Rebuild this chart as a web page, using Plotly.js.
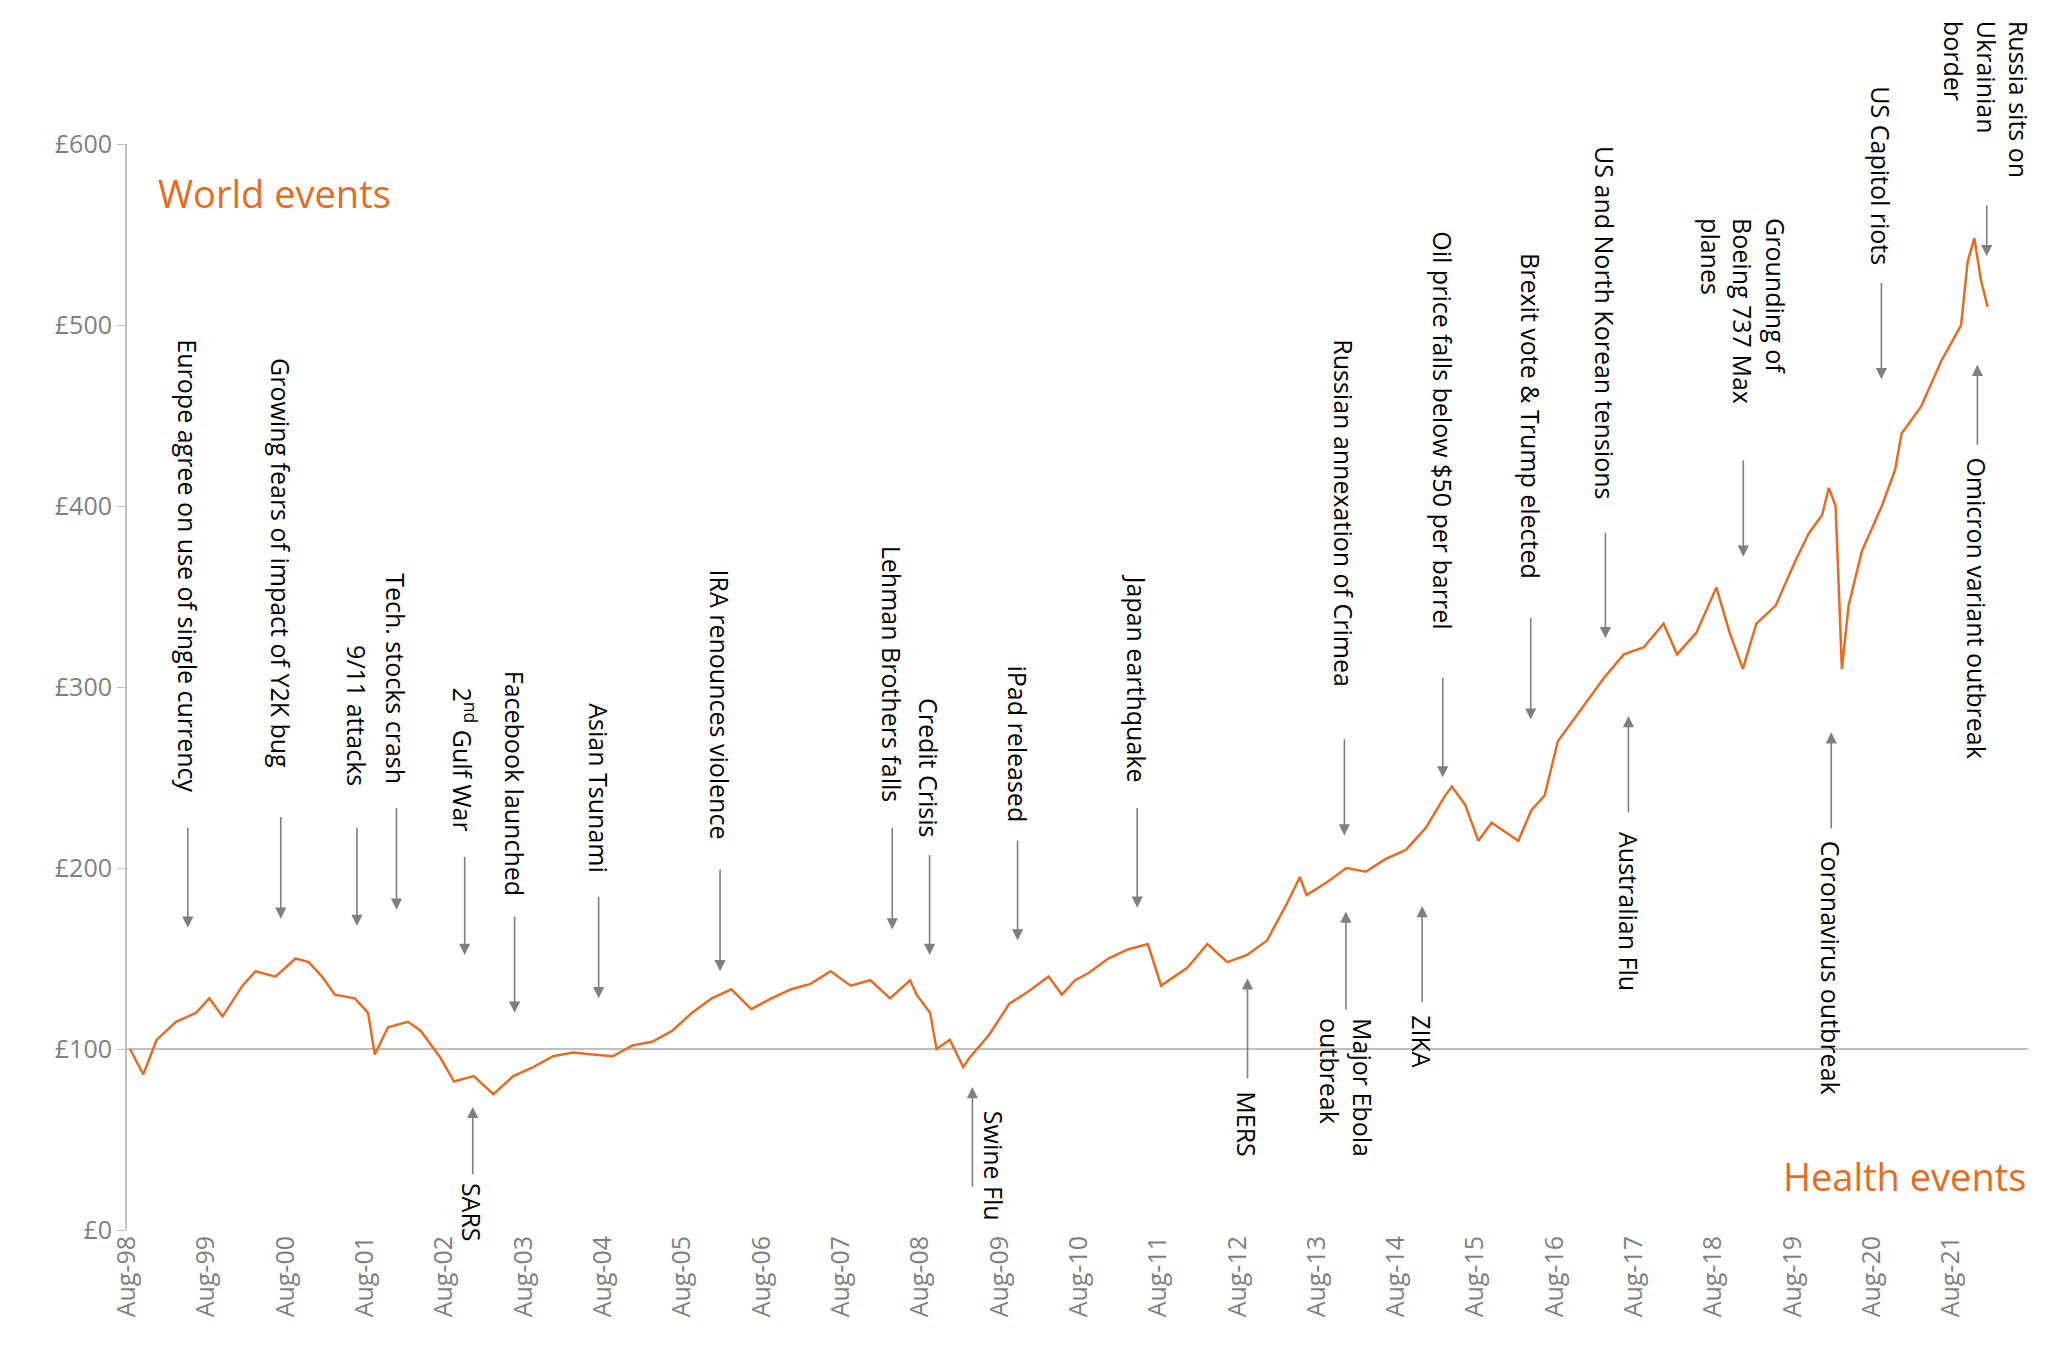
<!DOCTYPE html>
<html><head><meta charset="utf-8">
<script src="https://cdn.plot.ly/plotly-3.0.1.min.js"></script>
<style>body{margin:0;background:#fff}#c{width:2048px;height:1353px}</style>
</head><body><div id="c"></div>
<script>
// Monthly readings of the line (£)
const dates = ["1998-08","1998-10","1998-12","1999-03","1999-06","1999-08","1999-10","2000-01","2000-03","2000-06","2000-09","2000-11","2001-01","2001-03","2001-06","2001-08","2001-09","2001-11","2002-02","2002-04","2002-07","2002-09","2002-12","2003-03","2003-06","2003-09","2003-12","2004-03","2004-06","2004-09","2004-12","2005-03","2005-06","2005-09","2005-12","2006-03","2006-06","2006-09","2006-12","2007-03","2007-06","2007-09","2007-12","2008-03","2008-06","2008-07","2008-09","2008-10","2008-12","2009-02","2009-03","2009-06","2009-09","2009-12","2010-03","2010-05","2010-07","2010-09","2010-12","2011-03","2011-06","2011-08","2011-10","2011-12","2012-03","2012-06","2012-09","2012-12","2013-03","2013-05","2013-06","2013-09","2013-12","2014-03","2014-06","2014-09","2014-12","2015-03","2015-04","2015-06","2015-08","2015-10","2015-12","2016-02","2016-04","2016-06","2016-08","2016-10","2016-12","2017-03","2017-06","2017-09","2017-12","2018-02","2018-05","2018-08","2018-10","2018-12","2019-02","2019-05","2019-08","2019-10","2019-12","2020-01","2020-02","2020-03","2020-04","2020-06","2020-09","2020-11","2020-12","2021-03","2021-06","2021-09","2021-10","2021-11","2021-12","2022-01"];
const values = [100,86,105,115,120,128,118,135,143,140,150,148,140,130,128,120,97,112,115,110,95,82,85,75,85,90,96,98,97,96,102,104,110,120,128,133,122,128,133,136,143,135,138,128,138,130,120,100,105,90,95,108,125,132,140,130,138,142,150,155,158,135,140,145,158,148,152,160,180,195,185,192,200,198,205,210,222,240,245,235,215,225,220,215,232,240,270,280,290,305,318,322,335,318,330,355,330,310,335,345,370,385,395,410,400,310,345,375,400,420,440,455,480,500,535,548,525,510];
const yTicks = [0,100,200,300,400,500,600];
const yTickText = ["£0","£100","£200","£300","£400","£500","£600"];

// World events: label, year (decimal), text top (£), arrow tail (£), arrow head (£)
const worldLabels = ["Europe agree on use of single currency","Growing fears of impact of Y2K bug","9/11 attacks","Tech. stocks crash","2<sup>nd</sup> Gulf War","Facebook launched","Asian Tsunami","IRA renounces violence","Lehman Brothers falls","Credit Crisis","iPad released","Japan earthquake","Russian annexation of Crimea","Oil price falls below $50 per barrel","Brexit vote & Trump elected","US and North Korean tensions","Grounding of<br>Boeing 737 Max<br>planes","US Capitol riots","Russia sits on<br>Ukrainian<br>border"];
const worldYears = [1999.35,2000.52,2001.48,2001.98,2002.84,2003.47,2004.53,2006.06,2008.23,2008.70,2009.81,2011.32,2013.93,2015.17,2016.28,2017.22,2018.96,2020.70,2022.03];
const worldTextTop = [493,483,324,364,301,310,292,366,379,295,313,363,493,553,541,600,560,633,669];
const worldTail = [223,229,223,234,207,174,185,200,223,208,216,234,272,306,339,386,426,524,567];
const worldHead = [167,172,168,177,152,120,128,143,166,152,160,178,218,250,282,327,372,470,538];

// Health events
const healthLabels = ["SARS","Swine Flu","MERS","Major Ebola<br>outbreak","ZIKA","Australian Flu","Coronavirus outbreak","Omicron variant outbreak"];
const healthYears = [2002.94,2009.24,2012.71,2013.95,2014.91,2017.51,2020.07,2021.91];
const healthTextYears = [2002.94,2009.51,2012.71,2013.95,2014.91,2017.51,2020.07,2021.91];
const healthHead = [68,79,139,176,179,284,275,478];
const healthTail = [30,23,83,121,125,230,221,433];
const healthTextTop = [27,67,78,118,120,221,216,428];

function yd(y){ // decimal year -> date string
  const yr=Math.floor(y); const ms=Date.UTC(yr,0,1)+(y-yr)*(Date.UTC(yr+1,0,1)-Date.UTC(yr,0,1));
  return new Date(ms).toISOString().slice(0,10);
}
const ORANGE="#E46C25", GREY="#7f7f7f", FONT="Open Sans, Noto Sans, sans-serif";
const ann=[];
function arrow(year,tail,head){
  ann.push({xref:'x',yref:'y',axref:'x',ayref:'y',x:yd(year),y:head,ax:yd(year),ay:tail,text:'',showarrow:true,arrowhead:2,arrowsize:1.4,arrowwidth:1.6,arrowcolor:GREY,standoff:0,startstandoff:0});
}
function label(year,top,txt){
  ann.push({xref:'x',yref:'paper',x:yd(year),y:top/600,yanchor:'top',xanchor:'center',text:txt,textangle:90,showarrow:false,align:'left',font:{family:FONT,size:25,color:'#000'}});
}
worldLabels.forEach((t,i)=>{label(worldYears[i],worldTextTop[i],t);arrow(worldYears[i],worldTail[i],worldHead[i]);});
healthLabels.forEach((t,i)=>{label(healthTextYears[i],healthTextTop[i],t);arrow(healthYears[i],healthTail[i],healthHead[i]);});
ann.push({xref:'paper',yref:'paper',x:0.015,y:0.955,xanchor:'left',yanchor:'middle',text:'World events',showarrow:false,font:{family:FONT,size:38,color:ORANGE}});
ann.push({xref:'paper',yref:'paper',x:1.0,y:0.05,xanchor:'right',yanchor:'middle',text:'Health events',showarrow:false,font:{family:FONT,size:38,color:ORANGE}});

Plotly.newPlot('c',[{x:dates.map(d=>d+"-15"),y:values,mode:'lines',line:{color:ORANGE,width:2.5},hoverinfo:'skip'}],{
  width:2048,height:1353,margin:{l:127,r:20,t:144,b:123},
  paper_bgcolor:'#fff',plot_bgcolor:'#fff',showlegend:false,
  xaxis:{type:'date',range:['1998-08-01','2022-07-20'],tick0:'1998-08-01',dtick:'M12',tickformat:'%b-%y',tickangle:-90,
    showgrid:false,zeroline:false,showline:false,ticks:'',tickfont:{family:FONT,size:25,color:GREY}},
  yaxis:{range:[0,600],tickvals:yTicks,ticktext:yTickText,showgrid:false,zeroline:false,showline:true,linecolor:'#bfbfbf',linewidth:2,
    ticks:'outside',ticklen:8,tickcolor:'#bfbfbf',tickfont:{family:FONT,size:25,color:GREY}},
  shapes:[{type:'line',xref:'paper',yref:'y',x0:0,x1:1,y0:100,y1:100,line:{color:'#bfbfbf',width:2},layer:'below'}],
  annotations:ann
},{staticPlot:true});
</script></body></html>
